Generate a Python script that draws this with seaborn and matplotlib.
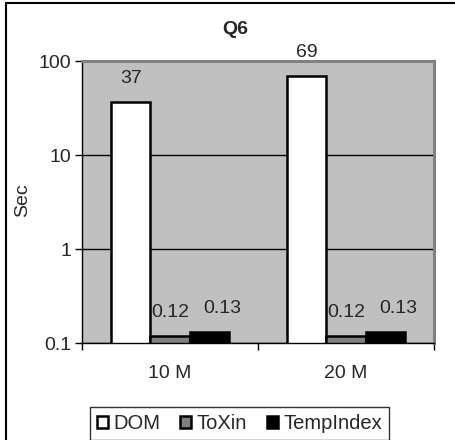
import matplotlib
matplotlib.use("Agg")
import matplotlib.pyplot as plt
from matplotlib.patches import Rectangle, Patch
import seaborn as sns
import pandas as pd

# Data
sizes = ["10 M", "20 M"]
methods = ["DOM", "ToXin", "TempIndex"]
dom_sec = [37, 69]
toxin_sec = [0.12, 0.12]
tempindex_sec = [0.13, 0.13]
y_ticks = [0.1, 1, 10, 100]
y_tick_labels = ["0.1", "1", "10", "100"]

series = {"DOM": dom_sec, "ToXin": toxin_sec, "TempIndex": tempindex_sec}
df = pd.DataFrame(
    [{"size": s, "method": m, "sec": series[m][i]}
     for m in methods for i, s in enumerate(sizes)]
)

colors = {"DOM": "#FFFFFF", "ToXin": "#808080", "TempIndex": "#000000"}

sns.set_style("white")
plt.rcParams["font.family"] = ["Liberation Sans", "DejaVu Sans"]

FS = 14
W, H = 456, 440
fig = plt.figure(figsize=(W / 100, H / 100), dpi=100)
ax = fig.add_axes([82 / W, 1 - 343 / H, (434 - 82) / W, (343 - 61) / H])
ax.set_facecolor("#C0C0C0")

sns.barplot(data=df, x="size", y="sec", hue="method", order=sizes,
            hue_order=methods, palette=colors, width=0.67, edgecolor="black",
            linewidth=1.8, legend=False, ax=ax, saturation=1)

ax.set_yscale("log")
ax.set_ylim(0.1, 100)
ax.set_xlim(-0.5, 1.5)
ax.set_yticks(y_ticks)
ax.set_yticklabels(y_tick_labels)
ax.yaxis.set_minor_locator(matplotlib.ticker.NullLocator())
ax.tick_params(axis="y", which="major", direction="out", length=5, width=1,
               color="black", labelsize=FS, pad=3, left=True)
ax.set_xticks([0, 1])
ax.set_xticklabels(sizes)
ax.set_xticks([-0.5, 0.5, 1.5], minor=True)
ax.tick_params(axis="x", which="major", length=0, labelsize=FS, pad=16)
ax.tick_params(axis="x", which="minor", direction="out", length=5, width=1,
               color="black", bottom=True)

ax.grid(axis="y", which="major", color="black", linewidth=1)
ax.set_axisbelow(True)

for side in ("left", "bottom"):
    ax.spines[side].set_color("black")
    ax.spines[side].set_linewidth(1)
for side in ("top", "right"):
    ax.spines[side].set_color("#808080")
    ax.spines[side].set_linewidth(2.2)
    ax.spines[side].set_visible(True)

ax.set_xlabel("")
ax.set_ylabel("")
fig.text(23 / W, 1 - 200 / H, "Sec", rotation=90, ha="center", va="center",
         fontsize=FS)
fig.text(235 / W, 1 - 30 / H, "Q6", ha="center", va="center",
         fontsize=FS, fontweight="bold")

# Value labels above each bar
for container, m in zip(ax.containers, methods):
    dx = 13 if m == "TempIndex" else 0
    for bar, v in zip(container, series[m]):
        ax.annotate(f"{v:g}", xy=(bar.get_x() + bar.get_width() / 2, v),
                    xytext=(dx, 15), textcoords="offset pixels",
                    ha="center", va="bottom", fontsize=FS,
                    annotation_clip=False)

handles = [Patch(facecolor=colors[m], edgecolor="black", linewidth=1.8, label=m)
           for m in methods]
leg = fig.legend(handles=handles, loc="upper left",
                 bbox_to_anchor=(90 / W, 1 - 407 / H), ncol=3, fontsize=14.5,
                 frameon=True, fancybox=False, handlelength=0.55,
                 handleheight=0.55, handletextpad=0.25, columnspacing=1.0,
                 borderpad=0.35, borderaxespad=0)
leg.get_frame().set_edgecolor("black")
leg.get_frame().set_linewidth(1)

# Outer chart border
fig.patches.append(Rectangle((6.5 / W, -0.1), 2, 1 - 3.5 / H + 0.1,
                             transform=fig.transFigure, fill=False,
                             edgecolor="black", linewidth=1.5))

fig.savefig("out.png", dpi=100)
